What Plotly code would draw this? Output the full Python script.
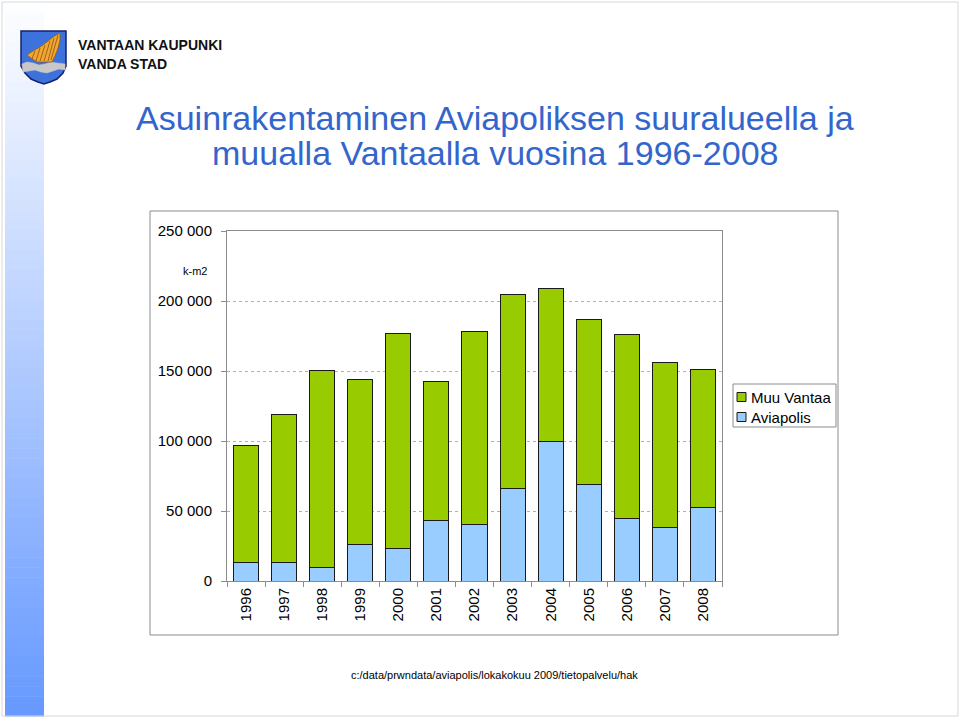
import plotly.graph_objects as go

# ---- data ----
years = ["1996", "1997", "1998", "1999", "2000", "2001", "2002",
         "2003", "2004", "2005", "2006", "2007", "2008"]
aviapolis = [12900, 12900, 9300, 25800, 22900, 43000, 40100,
             65900, 99600, 68800, 44400, 38000, 52300]
muu_vantaa = [83800, 106000, 141100, 118200, 154000, 99500, 138300,
              139000, 109600, 118200, 131800, 118200, 98900]
y_tick_vals = [0, 50000, 100000, 150000, 200000, 250000]
y_tick_text = ["0", "50 000", "100 000", "150 000", "200 000", "250 000"]
series_names = ["Aviapolis", "Muu Vantaa"]
series_colors = ["#99ccff", "#99cc00"]
title_lines = ["Asuinrakentaminen Aviapoliksen suuralueella ja",
               "muualla Vantaalla vuosina 1996-2008"]

W, H = 960, 718
L, R, T, B = 227, 722, 231, 581  # plot area in pixels


def px(x):
    return (x - L) / (R - L)


def py(y):
    return (B - y) / (B - T)


def path(points, close=True):
    s = "M " + " L ".join(f"{px(x):.5f},{py(y):.5f}" for x, y in points)
    return s + (" Z" if close else "")


fig = go.Figure()
for name, vals, col in zip(series_names, [aviapolis, muu_vantaa], series_colors):
    fig.add_trace(go.Bar(
        x=years, y=vals, name=name, showlegend=False,
        marker=dict(color=col, line=dict(color="#1a1a1a", width=1)),
    ))

shapes = []
# gradient bar on the left
n = 72
for i in range(n):
    t = (i + 0.5) / n
    r = int(255 - t * (255 - 0x66))
    g = int(255 - t * (255 - 0x99))
    shapes.append(dict(type="rect", xref="paper", yref="paper", layer="below",
                       x0=px(5), x1=px(44), y0=py(2 + i * 714 / n), y1=py(2 + (i + 1) * 714 / n + 0.5),
                       fillcolor=f"rgb({r},{g},255)", line=dict(width=0)))
# page border
shapes.append(dict(type="rect", xref="paper", yref="paper", layer="below",
                   x0=px(2), x1=px(958), y0=py(716), y1=py(2),
                   line=dict(color="#d8d8d8", width=1)))
# chart frame
shapes.append(dict(type="rect", xref="paper", yref="paper", layer="below",
                   x0=px(150), x1=px(838), y0=py(635), y1=py(211),
                   line=dict(color="#8c8c8c", width=1), fillcolor="white"))

# logo: shield
shield = [(21, 31), (66, 31), (66, 66), (63, 73), (57, 79), (50, 82), (44, 84),
          (38, 82), (31, 79), (25, 73), (21, 66)]
shapes.append(dict(type="path", xref="paper", yref="paper", path=path(shield),
                   fillcolor="#3d72dc", line=dict(color="#15206e", width=1.5)))
band = [(22, 64), (27, 62), (33, 63), (39, 65), (45, 64), (51, 62), (57, 63), (65, 64),
        (65, 70), (59, 69), (53, 71), (47, 73), (41, 72), (35, 70), (29, 71), (23, 72)]
shapes.append(dict(type="path", xref="paper", yref="paper", path=path(band),
                   fillcolor="#c8c8c8", line=dict(color="#c8c8c8", width=0.5)))
fin = [(27, 55), (33, 51), (40, 47), (47, 42), (53, 37), (58, 34), (60, 33),
       (60, 40), (58, 48), (55, 56), (52, 62), (37, 62), (31, 58)]
shapes.append(dict(type="path", xref="paper", yref="paper", path=path(fin),
                   fillcolor="#f0a830", line=dict(color="#9a5a10", width=0.8)))
for (x0, y0, x1, y1) in [(36, 61, 40, 48), (40, 61, 45, 45), (44, 61, 50, 41),
                         (48, 61, 54, 38), (51, 60, 58, 35), (32, 59, 35, 51)]:
    shapes.append(dict(type="line", xref="paper", yref="paper",
                       x0=px(x0), y0=py(y0), x1=px(x1), y1=py(y1),
                       line=dict(color="#a0601a", width=1)))

# legend (drawn manually to match the compact original)
shapes.append(dict(type="rect", xref="paper", yref="paper",
                   x0=px(733), x1=px(836), y0=py(427), y1=py(384),
                   line=dict(color="#8c8c8c", width=1), fillcolor="white"))
legend_rows = [(series_names[1], series_colors[1], 397), (series_names[0], series_colors[0], 417)]
annotations = []
for name, col, yc in legend_rows:
    shapes.append(dict(type="rect", xref="paper", yref="paper",
                       x0=px(737), x1=px(746), y0=py(yc + 4.5), y1=py(yc - 4.5),
                       line=dict(color="#1a1a1a", width=1), fillcolor=col))
    annotations.append(dict(text=name, x=px(749), y=py(yc), xref="paper", yref="paper",
                            xanchor="left", yanchor="middle", showarrow=False,
                            font=dict(family="Liberation Sans, Arial", size=15, color="#000")))

logo_font = dict(family="Liberation Sans, Arial", size=14, color="#111111", weight="bold")
annotations += [
    dict(text="VANTAAN KAUPUNKI", x=px(76), y=py(45), xref="paper", yref="paper",
         xanchor="left", yanchor="middle", showarrow=False, font=logo_font),
    dict(text="VANDA STAD", x=px(76), y=py(64), xref="paper", yref="paper",
         xanchor="left", yanchor="middle", showarrow=False, font=logo_font),
    dict(text="k-m2", x=px(195), y=py(271), xref="paper", yref="paper",
         xanchor="center", yanchor="middle", showarrow=False,
         font=dict(family="Liberation Sans, Arial", size=11, color="#000000")),
    dict(text="c:/data/prwndata/aviapolis/lokakokuu 2009/tietopalvelu/hak",
         x=px(494), y=py(675), xref="paper", yref="paper",
         xanchor="center", yanchor="middle", showarrow=False,
         font=dict(family="Liberation Sans, Arial", size=11, color="#000000")),
]
for line, yc in zip(title_lines, [118, 153]):
    annotations.append(dict(text=line, x=px(495), y=py(yc), xref="paper", yref="paper",
                            xanchor="center", yanchor="middle", showarrow=False,
                            font=dict(family="Liberation Sans, Arial", size=34, color="#3366cc")))

fig.update_layout(
    width=W, height=H,
    margin=dict(l=L, r=W - R, t=T, b=H - B, pad=0),
    barmode="stack", bargap=0.34,
    paper_bgcolor="white", plot_bgcolor="white",
    font=dict(family="Liberation Sans, Arial", size=15, color="#000000"),
    shapes=shapes, annotations=annotations,
    showlegend=False,
    xaxis=dict(type="category", tickangle=-90, showline=True, linecolor="#8c8c8c",
               linewidth=1, mirror=True, ticks="outside", ticklen=5, tickcolor="#8c8c8c",
               tickson="boundaries", showgrid=False, tickfont=dict(size=15)),
    yaxis=dict(range=[0, 250000], tickvals=y_tick_vals, ticktext=y_tick_text,
               showline=True, linecolor="#8c8c8c", linewidth=1, mirror=True,
               ticks="outside", ticklen=5, tickcolor="#8c8c8c",
               showgrid=True, gridcolor="#b0b0b0", griddash="dot", gridwidth=1,
               zeroline=False, tickfont=dict(size=15), ticklabelstandoff=6),
)

fig.write_html("out.html", config={"displayModeBar": False},
               post_script="document.body.style.margin='0';document.body.style.overflow='hidden';")
